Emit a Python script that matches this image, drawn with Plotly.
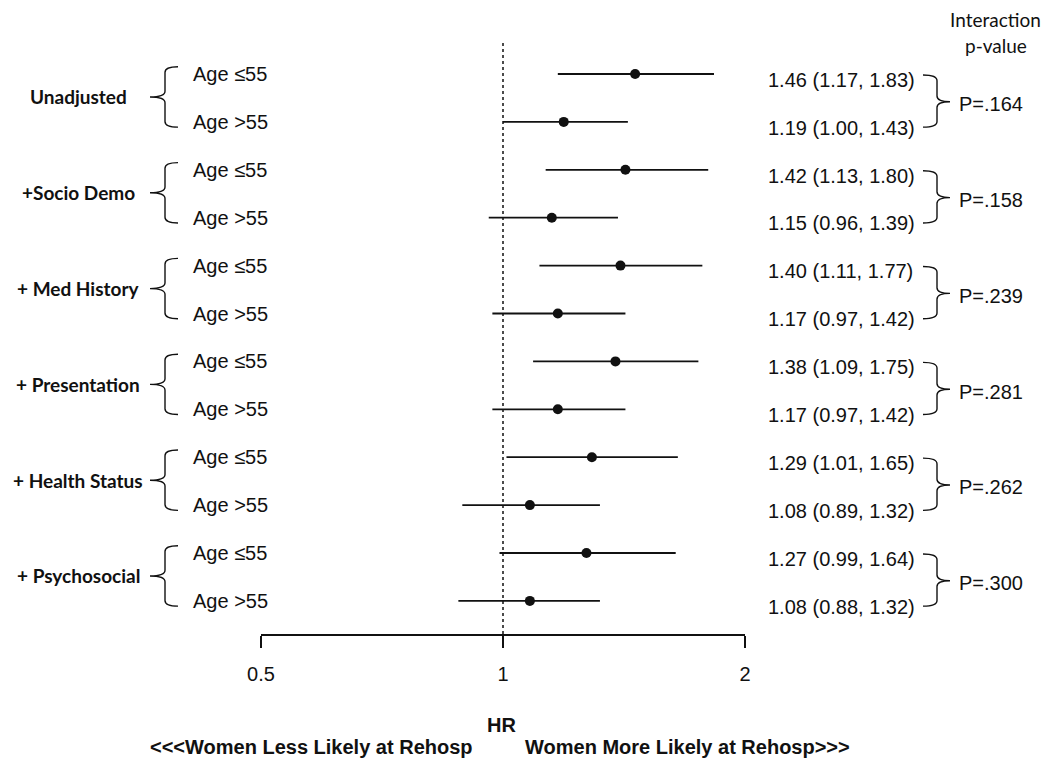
import math
import plotly.graph_objects as go

# modelos y resultados por grupo de edad
grupos = ["Unadjusted", "+Socio Demo", "+ Med History", "+ Presentation", "+ Health Status", "+ Psychosocial"]
edades = ["Age ≤55", "Age >55"]

hr_joven = [1.46, 1.42, 1.40, 1.38, 1.29, 1.27]
inf_joven = [1.17, 1.13, 1.11, 1.09, 1.01, 0.99]
sup_joven = [1.83, 1.80, 1.77, 1.75, 1.65, 1.64]

hr_mayor = [1.19, 1.15, 1.17, 1.17, 1.08, 1.08]
inf_mayor = [1.00, 0.96, 0.97, 0.97, 0.89, 0.88]
sup_mayor = [1.43, 1.39, 1.42, 1.42, 1.32, 1.32]

p_interaccion = [".164", ".158", ".239", ".281", ".262", ".300"]

ticks_x = [0.5, 1, 2]
ticks_txt = ["0.5", "1", "2"]

# filas intercaladas: <=55 arriba, >55 abajo
hr, inf, sup, filas = [], [], [], []
for i in range(len(grupos)):
    hr += [hr_joven[i], hr_mayor[i]]
    inf += [inf_joven[i], inf_mayor[i]]
    sup += [sup_joven[i], sup_mayor[i]]
    filas += [2 * i, 2 * i + 1]

ARIAL = "Liberation Sans, Arial, sans-serif"
CALIBRI = "Lato, Calibri, sans-serif"
NEGRO = "#111111"

# la pagina tiene 8px de margen en el body
OFF = 8
W, H = 1050 - OFF, 771 - OFF
# area de la grafica (pixeles de la imagen original)
L, R, T, B = 261, 745, 43, 634
FILA0, PASO = 74, 47.9
y_top = (T - FILA0) / PASO
y_bot = (B - FILA0) / PASO


def px(x):
    return (x - L) / (R - L)


def py(y):
    return (B - y) / (B - T)


fig = go.Figure()

# linea de referencia HR = 1
fig.add_trace(go.Scatter(x=[1, 1], y=[y_top, y_bot], mode="lines", hoverinfo="skip",
                         line=dict(color=NEGRO, width=1.5, dash="dot")))

# intervalos de confianza
xs, ys = [], []
for a, b, f in zip(inf, sup, filas):
    xs += [a, b, None]
    ys += [f, f, None]
fig.add_trace(go.Scatter(x=xs, y=ys, mode="lines", hoverinfo="skip",
                         line=dict(color=NEGRO, width=1.8)))

fig.add_trace(go.Scatter(x=hr, y=filas, mode="markers",
                         marker=dict(color=NEGRO, size=10),
                         hovertemplate="HR %{x}<extra></extra>"))

anots = []
shapes = []
c = 0.12


def llave(xh, xv, xt, ty, my, by):
    return (f"M {xh},{ty} Q {xv},{ty} {xv},{ty + c} L {xv},{my - c} "
            f"Q {xv},{my} {xt},{my} Q {xv},{my} {xv},{my + c} "
            f"L {xv},{by - c} Q {xv},{by} {xh},{by}")


def texto(x, y, t, fuente, size, ancla="center", yref="y"):
    anots.append(dict(x=x, y=y, xref="paper", yref=yref, text=t, showarrow=False,
                      xanchor=ancla, yanchor="middle",
                      font=dict(family=fuente, size=size, color=NEGRO)))


for i, g in enumerate(grupos):
    r0 = 2 * i
    # etiqueta del modelo
    texto(px(78), r0 + 0.48, "<b>" + g + "</b>", CALIBRI, 19)
    # llave izquierda
    shapes.append(dict(type="path", xref="paper", yref="y",
                       path=llave(px(178), px(165), px(150), r0 - 0.15, r0 + 0.48, r0 + 1.11),
                       line=dict(color=NEGRO, width=1.4)))
    # llave derecha
    shapes.append(dict(type="path", xref="paper", yref="y",
                       path=llave(px(923), px(937), px(950), r0 + 0.02, r0 + 0.58, r0 + 1.11),
                       line=dict(color=NEGRO, width=1.4)))
    texto(px(957), r0 + 0.63, "P=" + p_interaccion[i], ARIAL, 20, "left")

for k, f in enumerate(filas):
    texto(px(191), f, edades[k % 2], ARIAL, 20, "left")
    texto(px(766), f + 0.12, f"{hr[k]:.2f} ({inf[k]:.2f}, {sup[k]:.2f})", ARIAL, 20, "left")

# encabezado y textos inferiores
texto(px(995), py(19), "Interaction", CALIBRI, 19, yref="paper")
texto(px(996), py(45), "p-value", CALIBRI, 19, yref="paper")
texto(px(501), py(725), "<b>HR</b>", ARIAL, 20, yref="paper")
texto(px(475), py(747), "<b>&lt;&lt;&lt;Women Less Likely at Rehosp</b>", ARIAL, 20, "right", "paper")
texto(px(523), py(747), "<b>Women More Likely at Rehosp&gt;&gt;&gt;</b>", ARIAL, 20, "left", "paper")

fig.update_layout(
    width=W, height=H,
    margin=dict(l=L - OFF, r=W - (R - OFF), t=T - OFF, b=H - (B - OFF)),
    plot_bgcolor="white", paper_bgcolor="white",
    showlegend=False,
    annotations=anots,
    shapes=shapes,
    xaxis=dict(type="log", range=[math.log10(0.5), math.log10(2)],
               tickvals=ticks_x, ticktext=ticks_txt,
               ticks="outside", ticklen=12, tickwidth=1.5, tickcolor=NEGRO,
               showline=True, linecolor=NEGRO, linewidth=1.5,
               showgrid=False, zeroline=False, ticklabelstandoff=9,
               tickfont=dict(family=ARIAL, size=20, color=NEGRO)),
    yaxis=dict(range=[y_bot, y_top], visible=False, showgrid=False, zeroline=False),
)

fig.write_html("out.html")
